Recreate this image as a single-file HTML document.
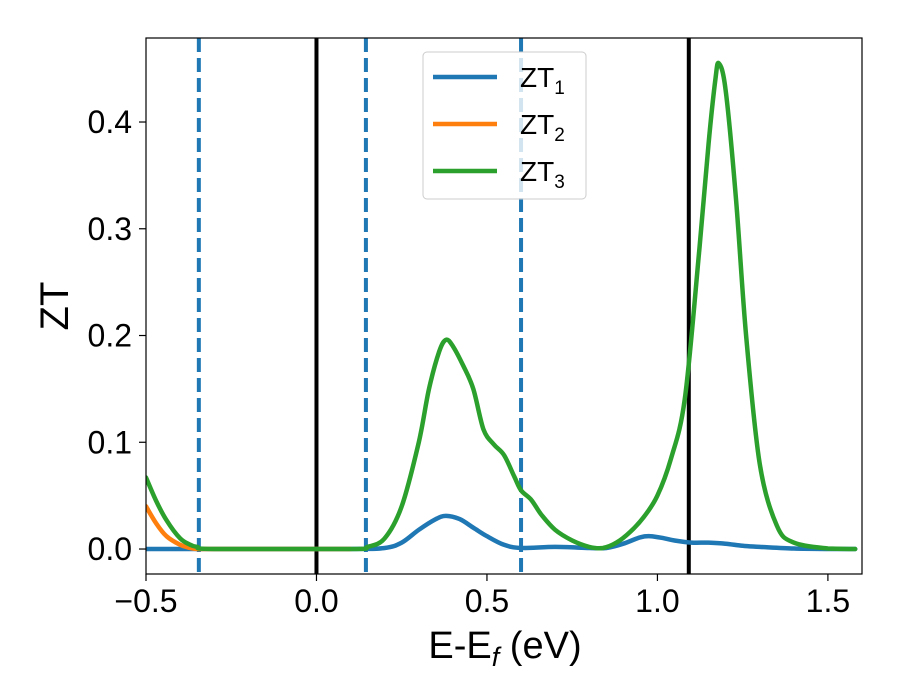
<!DOCTYPE html>
<html><head><meta charset="utf-8"><style>
body{margin:0;background:#fff;}
svg{display:block;font-family:"Liberation Sans","DejaVu Sans",sans-serif;}
</style></head><body>
<svg id="chart" width="900" height="700" viewBox="0 0 900 700"></svg>
<script>
const xs1 = [-0.5,-0.4,-0.3,0.1,0.2,0.25,0.3,0.35,0.38,0.42,0.46,0.5,0.55,0.6,0.7,0.8,0.85,0.9,0.95,0.98,1.02,1.05,1.1,1.15,1.2,1.25,1.3,1.4,1.5,1.58];
const zt1 = [0,0,0,0,0.001,0.006,0.018,0.028,0.031,0.028,0.02,0.012,0.004,0.001,0.002,0.001,0.001,0.005,0.011,0.012,0.01,0.008,0.006,0.006,0.005,0.003,0.002,0.0005,0,0];
const xs2 = [-0.5,-0.47,-0.44,-0.4,-0.37,-0.35,-0.3,0.1];
const zt2 = [0.04,0.024,0.012,0.004,0.001,0,0,0];
const xs3 = [-0.5,-0.47,-0.44,-0.4,-0.37,-0.35,-0.3,0.1,0.15,0.2,0.25,0.3,0.33,0.36,0.38,0.4,0.43,0.46,0.49,0.52,0.55,0.58,0.6,0.63,0.66,0.7,0.75,0.8,0.84,0.88,0.92,0.96,1.0,1.04,1.08,1.12,1.15,1.17,1.18,1.2,1.23,1.26,1.3,1.35,1.4,1.5,1.58];
const zt3 = [0.067,0.045,0.027,0.01,0.004,0.002,0,0,0.002,0.01,0.04,0.1,0.15,0.185,0.196,0.19,0.172,0.15,0.112,0.098,0.088,0.068,0.055,0.046,0.032,0.018,0.008,0.002,0.001,0.006,0.016,0.03,0.05,0.085,0.14,0.27,0.38,0.44,0.455,0.43,0.33,0.2,0.08,0.022,0.006,0.0005,0];
const xTicks = [-0.5,0.0,0.5,1.0,1.5];
const xTickLabels = ["\u22120.5","0.0","0.5","1.0","1.5"];
const yTicks = [0.0,0.1,0.2,0.3,0.4];
const yTickLabels = ["0.0","0.1","0.2","0.3","0.4"];
const dashedLines = [-0.345,0.145,0.6];
const solidLines = [0.0,1.092];

const L=146,R=862,T=38,B=574;
const X0=-0.5,X1=1.6,Y0=-0.0234,Y1=0.4787;
const sx=v=>L+(v-X0)/(X1-X0)*(R-L);
const sy=v=>B-(v-Y0)/(Y1-Y0)*(B-T);
const svg=document.getElementById('chart');
const NS='http://www.w3.org/2000/svg';
function mk(tag,attrs,parent){const e=document.createElementNS(NS,tag);for(const k in attrs)e.setAttribute(k,attrs[k]);(parent||svg).appendChild(e);return e;}

const clip=mk('clipPath',{id:'plotclip'});mk('rect',{x:L,y:T,width:R-L,height:B-T},clip);
const plot=mk('g',{'clip-path':'url(#plotclip)'});



dashedLines.forEach(v=>{const l=mk('line',{x1:sx(v),x2:sx(v),y1:T,y2:B,stroke:'#1f77b4','stroke-width':4,'stroke-dasharray':'14,6'},plot);

});
solidLines.forEach(v=>{const l=mk('line',{x1:sx(v),x2:sx(v),y1:T,y2:B,stroke:'#000','stroke-width':4},plot);

});

function smoothPath(P){let d='M'+P[0][0].toFixed(1)+','+P[0][1].toFixed(1);
for(let i=0;i<P.length-1;i++){const p0=P[Math.max(0,i-1)],p1=P[i],p2=P[i+1],p3=P[Math.min(P.length-1,i+2)];
let c1y=p1[1]+(p2[1]-p0[1])/6,c2y=p2[1]-(p3[1]-p1[1])/6;
const lo=Math.min(p1[1],p2[1]),hi=Math.max(p1[1],p2[1]);
if(c1y>B-25&&c1y>hi)c1y=hi; if(c2y>B-25&&c2y>hi)c2y=hi;
d+=' C'+(p1[0]+(p2[0]-p0[0])/6).toFixed(1)+','+c1y.toFixed(1)+' '+(p2[0]-(p3[0]-p1[0])/6).toFixed(1)+','+c2y.toFixed(1)+' '+p2[0].toFixed(1)+','+p2[1].toFixed(1);}
return d;}
function series(xsA,ys,color,name){const P=xsA.map((x,i)=>[sx(x),sy(ys[i])]);
const p=mk('path',{d:smoothPath(P),fill:'none',stroke:color,'stroke-width':4.5,'stroke-linejoin':'round','stroke-linecap':'round'},plot);

}
series(xs1,zt1,'#1f77b4','zt1-line');
series(xs2,zt2,'#ff7f0e','zt2-line');
series(xs3,zt3,'#2ca02c','zt3-line');

const frame=mk('rect',{x:L,y:T,width:R-L,height:B-T,fill:'none',stroke:'#000','stroke-width':1.2});



xTicks.forEach((v,i)=>{mk('line',{x1:sx(v),x2:sx(v),y1:B,y2:B+7,stroke:'#000','stroke-width':1.2});
const t=mk('text',{x:sx(v),y:B+38,'font-size':32,'text-anchor':'middle'});t.textContent=xTickLabels[i];

});
yTicks.forEach((v,i)=>{mk('line',{x1:L-7,x2:L,y1:sy(v),y2:sy(v),stroke:'#000','stroke-width':1.2});
const t=mk('text',{x:L-14,y:sy(v)+11,'font-size':32,'text-anchor':'end'});t.textContent=yTickLabels[i];

});
</script>
<svg width="900" height="700" style="position:absolute;left:0;top:0;font-family:'Liberation Sans','DejaVu Sans',sans-serif">
<text x="505" y="658" font-size="38" text-anchor="middle">E-E<tspan font-style="italic" font-size="27" dy="8">f</tspan><tspan dy="-8"> (eV)</tspan></text>
<text x="0" y="0" font-size="40" text-anchor="middle" transform="translate(68,306) rotate(-90)">ZT</text>
<g>
<rect x="423" y="52" width="163" height="147" rx="4" fill="#fff" fill-opacity="0.8" stroke="#ccc" stroke-width="1"/>
<g><line x1="433" x2="497" y1="77" y2="77" stroke="#1f77b4" stroke-width="4.5"/><text x="520" y="87" font-size="28">ZT<tspan font-size="19" dy="7">1</tspan></text></g>
<g><line x1="433" x2="497" y1="124" y2="124" stroke="#ff7f0e" stroke-width="4.5"/><text x="520" y="134" font-size="28">ZT<tspan font-size="19" dy="7">2</tspan></text></g>
<g><line x1="433" x2="497" y1="171" y2="171" stroke="#2ca02c" stroke-width="4.5"/><text x="520" y="181" font-size="28">ZT<tspan font-size="19" dy="7">3</tspan></text></g>
</g>
</svg>
</body></html>
